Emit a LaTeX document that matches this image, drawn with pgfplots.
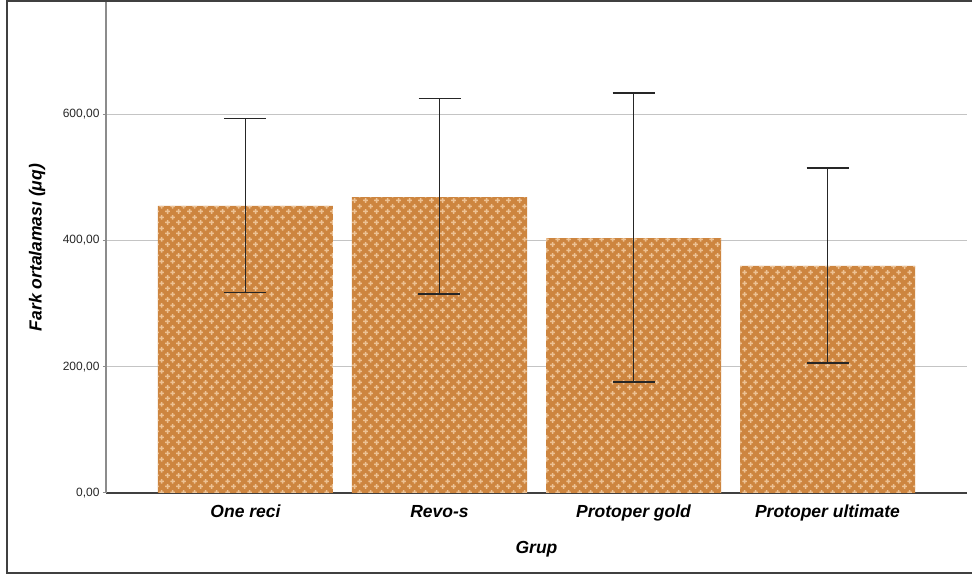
\documentclass[border=0pt]{standalone}
\usepackage{fontspec}
\setmainfont{Liberation Sans}
\usepackage{pgfplots}
\pgfplotsset{compat=1.18}
\usetikzlibrary{patterns}
\definecolor{barorange}{HTML}{CD853F}
\definecolor{pluscol}{HTML}{EDC294}
\definecolor{gridgray}{HTML}{C4C4C4}
\pgfdeclarepatternformonly{spsspluses}{\pgfqpoint{0pt}{0pt}}{\pgfqpoint{11pt}{11pt}}{\pgfqpoint{11pt}{11pt}}{%
  \pgfsetlinewidth{1.6pt}%
  \pgfpathmoveto{\pgfqpoint{0.25pt}{2.75pt}}\pgfpathlineto{\pgfqpoint{5.25pt}{2.75pt}}%
  \pgfpathmoveto{\pgfqpoint{2.75pt}{0.25pt}}\pgfpathlineto{\pgfqpoint{2.75pt}{5.25pt}}%
  \pgfpathmoveto{\pgfqpoint{5.75pt}{8.25pt}}\pgfpathlineto{\pgfqpoint{10.75pt}{8.25pt}}%
  \pgfpathmoveto{\pgfqpoint{8.25pt}{5.75pt}}\pgfpathlineto{\pgfqpoint{8.25pt}{10.75pt}}%
  \pgfusepath{stroke}%
}
\begin{document}
\begin{tikzpicture}
\begin{axis}[
  at={(0pt,0pt)}, anchor=south west,
  scale only axis, width=861pt, height=491pt,
  xmin=-0.719, xmax=3.719, ymin=0, ymax=778,
  ybar, bar width=175pt,
  xtick={0,1,2,3},
  xticklabels={One reci, Revo-s, Protoper gold, Protoper ultimate},
  ytick={0,200,400,600},
  /pgf/number format/fixed,
  /pgf/number format/fixed zerofill,
  /pgf/number format/precision=2,
  /pgf/number format/use comma,
  /pgf/number format/assume math mode=true,
  y tick label style={font=\fontsize{12}{14}\selectfont, color=black!85},
  x tick label style={font=\fontsize{17.5}{20}\selectfont\bfseries\itshape, text height=13pt, text depth=4pt, yshift=-5pt},
  ymajorgrids, grid style={gridgray, line width=1.2pt},
  axis x line*=bottom, axis y line*=left,
  x axis line style={draw=black!75, line width=1.2pt},
  y axis line style={draw=black!45, line width=1.2pt},
  xtick style={draw=none},
  ytick style={draw=black!45, line width=1pt},
  major tick length=3pt, tick align=outside,
  xlabel={Grup}, ylabel={Fark ortalaması (μq)},
  xlabel style={font=\fontsize{17.5}{20}\selectfont\bfseries\itshape, at={(axis description cs:0.5,0)}, anchor=north, yshift=-45pt},
  ylabel style={font=\fontsize{17.5}{20}\selectfont\bfseries\itshape, at={(axis description cs:-0.0800,0.5)}, anchor=center},
  clip=false,
]
\addplot[fill=barorange, draw=none,
  postaction={pattern=spsspluses, pattern color=pluscol},
  error bars/.cd, y dir=both, y explicit,
  error bar style={line width=1.4pt, black!85},
  error mark options={rotate=90, mark size=21pt, line width=1.4pt, black!85}]
coordinates {
  (0,455) += (0,138) -= (0,137)
  (1,469) += (0,156) -= (0,154)
  (2,404) += (0,230) -= (0,228)
  (3,360) += (0,155) -= (0,154)
};
\end{axis}
\draw[line width=1.6pt, black!75] (880pt,492pt) -- (-99pt,492pt) -- (-99pt,-80pt) -- (880pt,-80pt);
\pgfresetboundingbox
\useasboundingbox (-106pt,-84pt) rectangle (866pt,493pt);
\end{tikzpicture}
\end{document}
